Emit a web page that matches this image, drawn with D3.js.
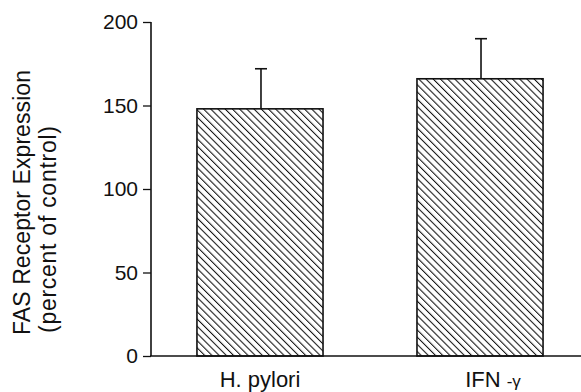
<!DOCTYPE html>
<html>
<head>
<meta charset="utf-8">
<script src="https://cdn.jsdelivr.net/npm/d3@7"></script>
<style>
  html, body { margin: 0; padding: 0; background: #fff; }
  svg { display: block; }
  text { font-family: "Liberation Sans", Arial, Helvetica, sans-serif; fill: #111; }
</style>
</head>
<body>
<svg id="chart" width="581" height="392"></svg>
<script>
const categories = ["H. pylori", "IFN -γ"];
const means = [148, 166];
const errors = [24, 24];
const yTicks = [0, 50, 100, 150, 200];

const svg = d3.select("#chart");
const W = 581, H = 392;

const x = d3.scaleBand().domain(categories).range([103, 637]).paddingInner(0.427).paddingOuter(0.427);
const y = d3.scaleLinear().domain([0, 200]).range([356, 22]);

const defs = svg.append("defs");
defs.append("pattern")
  .attr("id", "hatch")
  .attr("patternUnits", "userSpaceOnUse")
  .attr("width", 5.1).attr("height", 10)
  .attr("patternTransform", "rotate(-45)")
  .append("line")
  .attr("x1", 0.5).attr("y1", 0).attr("x2", 0.5).attr("y2", 10)
  .attr("stroke", "#111").attr("stroke-width", 1.1);

// bars
svg.append("g").selectAll("rect").data(categories).join("rect")
  .attr("x", d => x(d))
  .attr("y", (d, i) => y(means[i]))
  .attr("width", x.bandwidth())
  .attr("height", (d, i) => y(0) - y(means[i]))
  .attr("fill", "url(#hatch)")
  .attr("stroke", "#111")
  .attr("stroke-width", 1.6);

// error bars (upper only)
const eg = svg.append("g").attr("stroke", "#111").attr("stroke-width", 1.6);
categories.forEach((c, i) => {
  const cx = x(c) + x.bandwidth() / 2 + 1;
  eg.append("line").attr("x1", cx).attr("x2", cx)
    .attr("y1", y(means[i])).attr("y2", y(means[i] + errors[i]));
  eg.append("line").attr("x1", cx - 6).attr("x2", cx + 6)
    .attr("y1", y(means[i] + errors[i])).attr("y2", y(means[i] + errors[i]));
});

// y axis
const yAxis = d3.axisLeft(y).tickValues(yTicks).tickSize(8).tickPadding(5).tickFormat(d3.format("d"));
const ga = svg.append("g").attr("transform", "translate(151,0)").call(yAxis);
ga.select(".domain").attr("stroke", "#111").attr("stroke-width", 1.6).attr("d", `M0,${y(200)}V${y(0)}`);
ga.selectAll(".tick line").attr("stroke", "#111").attr("stroke-width", 1.3);
ga.selectAll(".tick text").attr("font-size", 21).attr("fill", "#111")
  .attr("font-family", '"Liberation Sans", Arial, sans-serif');

// x axis baseline
svg.append("line").attr("x1", 150).attr("x2", W)
  .attr("y1", y(0)).attr("y2", y(0))
  .attr("stroke", "#111").attr("stroke-width", 1.6);

// category labels
const labelShift = [0, 13];
categories.forEach((c, i) => {
  const t = svg.append("text")
    .attr("x", x(c) + x.bandwidth() / 2 + labelShift[i])
    .attr("y", 387)
    .attr("text-anchor", "middle")
    .attr("font-size", 22);
  if (c.includes("-γ")) {
    t.append("tspan").text("IFN ");
    t.append("tspan").attr("font-size", 17).text("-γ");
  } else {
    t.text(c);
  }
});

// y axis title
svg.append("text")
  .attr("transform", "translate(29.5,335) rotate(-90)")
  .attr("text-anchor", "start")
  .attr("font-size", 23)
  .attr("textLength", 265)
  .text("FAS Receptor Expression");
svg.append("text")
  .attr("transform", "translate(55.5,333) rotate(-90)")
  .attr("text-anchor", "start")
  .attr("font-size", 23)
  .attr("textLength", 207)
  .text("(percent of control)");
</script>
</body>
</html>
